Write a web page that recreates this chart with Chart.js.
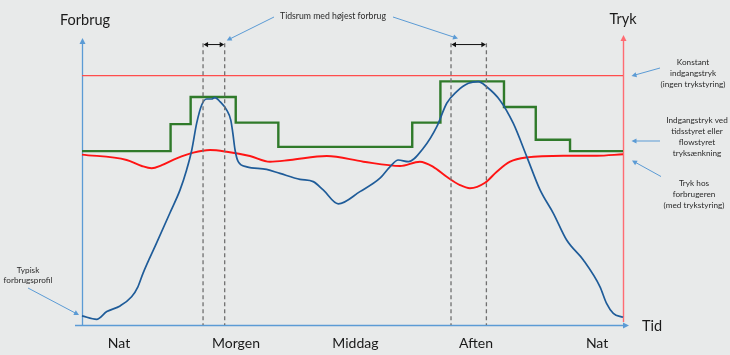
<!DOCTYPE html>
<html><head><meta charset="utf-8">
<script src="https://cdn.jsdelivr.net/npm/chart.js@4"></script>
<style>html,body{margin:0;padding:0;background:#e8eaea;}#wrap{width:730px;height:355px;position:relative;}</style>
</head><body><div id="wrap"><canvas id="c" width="730" height="355"></canvas></div>
<script>
// Time of day in hours (0-24), relative level (0-100)
const consumptionX = [0,0.65,1.10,1.69,2.2,2.48,2.71,3.31,3.9,4.35,4.64,4.87,5.09,5.31,5.53,5.75,5.9,6.12,6.42,6.6,6.69,6.79,6.93,7.31,8.19,8.78,9.67,10.26,10.7,11.37,12.33,13.22,13.66,14.03,14.48,15.14,15.74,16.18,16.62,17.14,17.58,17.95,18.54,19.13,19.73,20.32,20.91,21.5,22.24,22.98,23.27,23.57,24];
const consumption = [3.2,2.0,4.7,6.7,9.9,13.4,18.2,28.8,39.3,47.4,54.4,61.4,70.9,77.2,79.3,79.3,79.8,78.4,75.4,71.9,67.4,61.4,57.3,55.5,54.6,53.2,51.1,50.3,47.4,42.5,46.8,51.5,55.5,57.9,57.3,62.0,69.6,77.8,81.9,84.8,85.4,83.6,78.9,70.8,59.1,47.4,39.2,29.8,22.8,13.4,7.6,4.1,2.7];

const pressureX = [0,1.98,2.65,3.09,3.54,4.2,4.94,5.68,6.42,7.45,8.34,9.23,10.86,12.48,14.11,14.99,15.58,16.18,16.77,17.21,17.88,18.4,18.99,19.73,21.35,22.83,24];
const pressure = [59.8,57.9,55.8,55.0,56.1,58.5,60.5,61.4,60.8,59.3,57.3,57.9,59.3,57.3,55.8,57.3,55.5,52.0,49.1,48.0,49.9,53.8,57.3,58.8,59.4,59.4,59.9];

const stepX = [0,3.93,4.82,6.82,8.71,14.65,15.9,18.72,20.13,21.65,24];
const stepY = [61,70.5,80,71,62.5,71,85.5,76.5,65,61,61];

const constantPressure = 87.5;
const peakPeriods = [[5.37,6.33],[16.37,17.94]];
const peakTop = 98.9;
const timeLabels = ['Nat','Morgen','Middag','Aften','Nat'];
const timeLabelPos = [1.64,6.83,12.13,17.48,22.85];

const toPts = (xs, ys) => xs.map((x,i)=>({x:x, y:ys[i]}));

const FONT = 'Lato, "Open Sans", sans-serif';

function arrowHead(ctx, x0, y0, x1, y1, len, half, color){
  const a = Math.atan2(y1-y0, x1-x0);
  ctx.save();
  ctx.fillStyle = color;
  ctx.translate(x1, y1);
  ctx.rotate(a);
  ctx.beginPath();
  ctx.moveTo(0,0);
  ctx.lineTo(-len, -half);
  ctx.lineTo(-len, half);
  ctx.closePath();
  ctx.fill();
  ctx.restore();
}
function arrowLine(ctx, x0, y0, x1, y1, color, w, len, half){
  const a = Math.atan2(y1-y0, x1-x0);
  ctx.save();
  ctx.strokeStyle = color; ctx.lineWidth = w;
  ctx.beginPath();
  ctx.moveTo(x0,y0);
  ctx.lineTo(x1 - Math.cos(a)*len*0.8, y1 - Math.sin(a)*len*0.8);
  ctx.stroke();
  ctx.restore();
  arrowHead(ctx, x0, y0, x1, y1, len, half, color);
}
function textLines(ctx, lines, cx, y0, dy, font, color){
  ctx.save();
  ctx.font = font; ctx.fillStyle = color;
  ctx.textAlign = 'center'; ctx.textBaseline = 'middle';
  lines.forEach((t,i)=>ctx.fillText(t, cx, y0 + i*dy));
  ctx.restore();
}

const deco = {
  id: 'deco',
  beforeDraw(chart){
    const ctx = chart.ctx;
    ctx.save(); ctx.fillStyle = '#e8eaea'; ctx.fillRect(0,0,chart.width,chart.height); ctx.restore();
  },
  beforeDatasetsDraw(chart){
    const ctx = chart.ctx, ca = chart.chartArea;
    const axBlue = '#5b9bd5', axRed = '#ff6b72';
    // left axis
    arrowLine(ctx, ca.left+0.5, ca.bottom+1, ca.left+0.5, ca.top-2, axBlue, 1.3, 6, 3);
    // right axis (red)
    arrowLine(ctx, ca.right+0.5, ca.bottom-3, ca.right+0.5, ca.top-5, axRed, 1.4, 6, 3);
    // x axis
    arrowLine(ctx, ca.left-7, ca.bottom+0.5, ca.right+6, ca.bottom+0.5, axBlue, 1.3, 6, 3);
  },
  afterDatasetsDraw(chart){
    const ctx = chart.ctx, ca = chart.chartArea;
    const xs = chart.scales.x, ys = chart.scales.y;
    // dashed peak lines + double arrows
    const yTop = ys.getPixelForValue(peakTop);
    const yArr = ys.getPixelForValue(peakTop - 0.5);
    peakPeriods.forEach(p=>{
      const xa = xs.getPixelForValue(p[0]), xb = xs.getPixelForValue(p[1]);
      ctx.save();
      ctx.strokeStyle = '#707070'; ctx.lineWidth = 1.3; ctx.setLineDash([4,3]);
      [xa, xb].forEach(x=>{ ctx.beginPath(); ctx.moveTo(x, yTop); ctx.lineTo(x, ca.bottom); ctx.stroke(); });
      ctx.setLineDash([]);
      ctx.strokeStyle = '#111'; ctx.lineWidth = 1;
      ctx.beginPath(); ctx.moveTo(xa+3, yArr); ctx.lineTo(xb-3, yArr); ctx.stroke();
      ctx.restore();
      arrowHead(ctx, xb, yArr, xa+0.5, yArr, 4.5, 2.6, '#111');
      arrowHead(ctx, xa, yArr, xb-0.5, yArr, 4.5, 2.6, '#111');
    });
    // tick labels
    ctx.save();
    ctx.font = '14px ' + FONT; ctx.fillStyle = '#1a1a1a';
    ctx.textAlign = 'center'; ctx.textBaseline = 'middle';
    timeLabels.forEach((t,i)=>ctx.fillText(t, xs.getPixelForValue(timeLabelPos[i]), ca.bottom + 18));
    // axis titles
    ctx.font = '14.5px ' + FONT;
    ctx.fillText('Forbrug', ca.left + 3, 20);
    ctx.fillText('Tryk', ca.right, 19);
    ctx.textAlign = 'left';
    ctx.fillText('Tid', ca.right + 19, ca.bottom + 1);
    ctx.restore();
    // annotations
    const ann = '#5b9bd5', tc = '#2a2a2a';
    const f1 = '8.7px ' + FONT, f2 = '8.2px ' + FONT;
    textLines(ctx, ['Tidsrum med højest forbrug'], 333, 16, 11, f1, tc);
    arrowLine(ctx, 274, 17, xs.getPixelForValue(peakPeriods[0][1]) + 2, 40.5, ann, 1, 5, 2.6);
    arrowLine(ctx, 393, 17, xs.getPixelForValue(peakPeriods[1][0]) + 7, 38.5, ann, 1, 5, 2.6);
    textLines(ctx, ['Konstant','indgangstryk','(ingen trykstyring)'], 693, 62, 11, f2, tc);
    arrowLine(ctx, 660, 68, 631.5, 76, ann, 1, 5, 2.6);
    textLines(ctx, ['Indgangstryk ved','tidsstyret eller','flowstyret','tryksænkning'], 697, 120, 11, f2, tc);
    arrowLine(ctx, 660, 141, 631.5, 141, ann, 1, 5, 2.6);
    textLines(ctx, ['Tryk hos','forbrugeren','(med trykstyring)'], 694, 183.5, 11, f2, tc);
    arrowLine(ctx, 661, 176.5, 632, 160.5, ann, 1, 5, 2.6);
    textLines(ctx, ['Typisk','forbrugsprofil'], 28, 270, 10.5, f2, tc);
    arrowLine(ctx, 28, 288, 79, 315, ann, 1, 5, 2.6);
  }
};

new Chart(document.getElementById('c'), {
  type: 'line',
  data: {
    datasets: [
      { label: 'Forbrug', data: toPts(consumptionX, consumption), borderColor: '#1f5c99', borderWidth: 1.7,
        pointRadius: 0, cubicInterpolationMode: 'monotone', fill: false, order: 1 },
      { label: 'Indgangstryk (styret)', data: toPts(stepX, stepY), borderColor: '#2f7a2a', borderWidth: 2.4,
        pointRadius: 0, stepped: 'before', fill: false, order: 2 },
      { label: 'Tryk hos forbrugeren', data: toPts(pressureX, pressure), borderColor: '#ff1414', borderWidth: 1.9,
        pointRadius: 0, cubicInterpolationMode: 'monotone', fill: false, order: 3 },
      { label: 'Konstant indgangstryk', data: [{x:0,y:constantPressure},{x:24,y:constantPressure}], borderColor: '#ff4d4d', borderWidth: 1.4,
        pointRadius: 0, fill: false, order: 4 }
    ]
  },
  options: {
    responsive: false, animation: false, devicePixelRatio: 1,
    layout: { padding: { left: 82, right: 107, top: 40, bottom: 30 } },
    scales: {
      x: { type: 'linear', min: 0, max: 24, display: false },
      y: { type: 'linear', min: 0, max: 100, display: false }
    },
    plugins: { legend: { display: false }, tooltip: { enabled: false } },
    elements: { line: { borderCapStyle: 'butt', borderJoinStyle: 'miter' } },
    clip: false
  },
  plugins: [deco]
});
</script></body></html>
